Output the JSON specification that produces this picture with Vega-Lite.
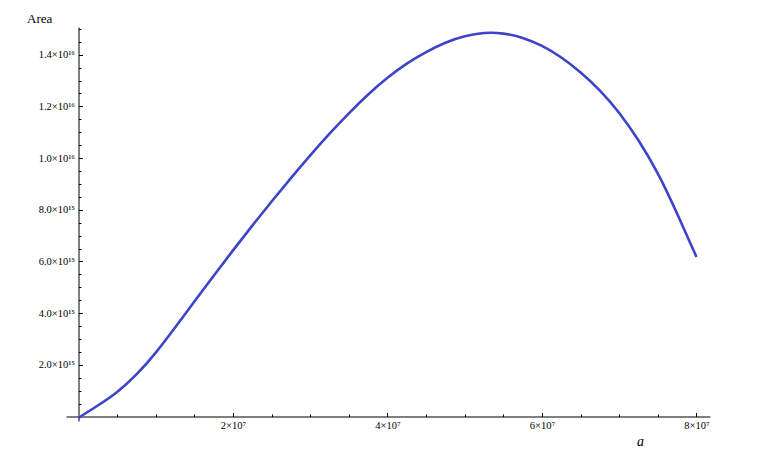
{
  "$schema": "https://vega.github.io/schema/vega-lite/v6.json",
  "width": 644,
  "height": 394,
  "autosize": {"type": "none"},
  "padding": {"left": 66, "top": 27, "right": 48, "bottom": 41},
  "background": "white",
  "config": {"view": {"stroke": null}},
  "data": {"values": [
    {"a": 0, "area": -50000000000000},
    {"a": 2500000, "area": 420000000000000},
    {"a": 5000000, "area": 920000000000000},
    {"a": 7500000, "area": 1600000000000000},
    {"a": 10000000, "area": 2450000000000000},
    {"a": 12500000, "area": 3440000000000000},
    {"a": 15000000, "area": 4450000000000000},
    {"a": 17500000, "area": 5450000000000000},
    {"a": 20000000, "area": 6430000000000000},
    {"a": 22500000, "area": 7390000000000000},
    {"a": 25000000, "area": 8320000000000000},
    {"a": 27500000, "area": 9230000000000000},
    {"a": 30000000, "area": 10110000000000000},
    {"a": 32500000, "area": 10950000000000000},
    {"a": 35000000, "area": 11740000000000000},
    {"a": 37500000, "area": 12470000000000000},
    {"a": 40000000, "area": 13120000000000000},
    {"a": 42500000, "area": 13670000000000000},
    {"a": 45000000, "area": 14110000000000000},
    {"a": 47500000, "area": 14480000000000000},
    {"a": 50000000, "area": 14730000000000000},
    {"a": 52500000, "area": 14860000000000000},
    {"a": 55000000, "area": 14840000000000000},
    {"a": 57500000, "area": 14670000000000000},
    {"a": 60000000, "area": 14360000000000000},
    {"a": 62500000, "area": 13910000000000000},
    {"a": 65000000, "area": 13330000000000000},
    {"a": 67500000, "area": 12640000000000000},
    {"a": 70000000, "area": 11780000000000000},
    {"a": 72500000, "area": 10710000000000000},
    {"a": 75000000, "area": 9450000000000000},
    {"a": 77500000, "area": 7860000000000000},
    {"a": 80000000, "area": 6170000000000000}
  ]},
  "mark": {"type": "line", "color": "#3d44c8", "strokeWidth": 2.6, "interpolate": "basis"},
  "encoding": {
    "x": {
      "field": "a",
      "type": "quantitative",
      "scale": {"domain": [-1620000, 81750000], "nice": false, "zero": false},
      "axis": {
        "offset": -4.5,
        "grid": false,
        "domainColor": "black",
        "domainWidth": 1,
        "tickColor": "black",
        "values": [5000000, 10000000, 15000000, 20000000, 25000000, 30000000, 35000000, 40000000, 45000000, 50000000, 55000000, 60000000, 65000000, 70000000, 75000000, 80000000],
        "tickSize": {"condition": {"test": "datum.value % 20000000 == 0", "value": -4}, "value": -2.5},
        "labelExpr": "datum.value % 20000000 == 0 ? format(datum.value / 1e7, 'd') + '×10⁷' : ''",
        "labelFont": "Liberation Serif",
        "labelFontSize": 10.5,
        "labelColor": "black",
        "labelPadding": 8,
        "labelOverlap": false,
        "labelFlush": false,
        "labelBound": false,
        "title": "a",
        "titleFont": "Liberation Serif",
        "titleFontStyle": "italic",
        "titleFontWeight": "normal",
        "titleFontSize": 14,
        "titleColor": "black",
        "titleAlign": "center",
        "titleBaseline": "alphabetic",
        "titleX": 574,
        "titleY": 29
      }
    },
    "y": {
      "field": "area",
      "type": "quantitative",
      "scale": {"domain": [-174000000000000, 15070000000000000], "nice": false, "zero": false},
      "axis": {
        "offset": -12.5,
        "grid": false,
        "domainColor": "black",
        "domainWidth": 1,
        "tickColor": "black",
        "values": [500000000000000, 1000000000000000, 1500000000000000, 2000000000000000, 2500000000000000, 3000000000000000, 3500000000000000, 4000000000000000, 4500000000000000, 5000000000000000, 5500000000000000, 6000000000000000, 6500000000000000, 7000000000000000, 7500000000000000, 8000000000000000, 8500000000000000, 9000000000000000, 9500000000000000, 10000000000000000, 10500000000000000, 11000000000000000, 11500000000000000, 12000000000000000, 12500000000000000, 13000000000000000, 13500000000000000, 14000000000000000, 14500000000000000, 15000000000000000],
        "tickSize": {"condition": {"test": "datum.value % 2e15 == 0", "value": -4}, "value": -2.5},
        "labelExpr": "datum.value % 2e15 == 0 ? (datum.value < 1e16 ? format(datum.value / 1e15, '.1f') + '×10¹⁵' : format(datum.value / 1e16, '.1f') + '×10¹⁶') : ''",
        "labelFont": "Liberation Serif",
        "labelFontSize": 10.5,
        "labelColor": "black",
        "labelPadding": 8,
        "labelOverlap": false,
        "labelFlush": false,
        "labelBound": false,
        "title": "Area",
        "titleFont": "Liberation Serif",
        "titleFontWeight": "normal",
        "titleFontSize": 13,
        "titleColor": "black",
        "titleAngle": 0,
        "titleAlign": "left",
        "titleBaseline": "alphabetic",
        "titleX": -52,
        "titleY": -5
      }
    }
  }
}
